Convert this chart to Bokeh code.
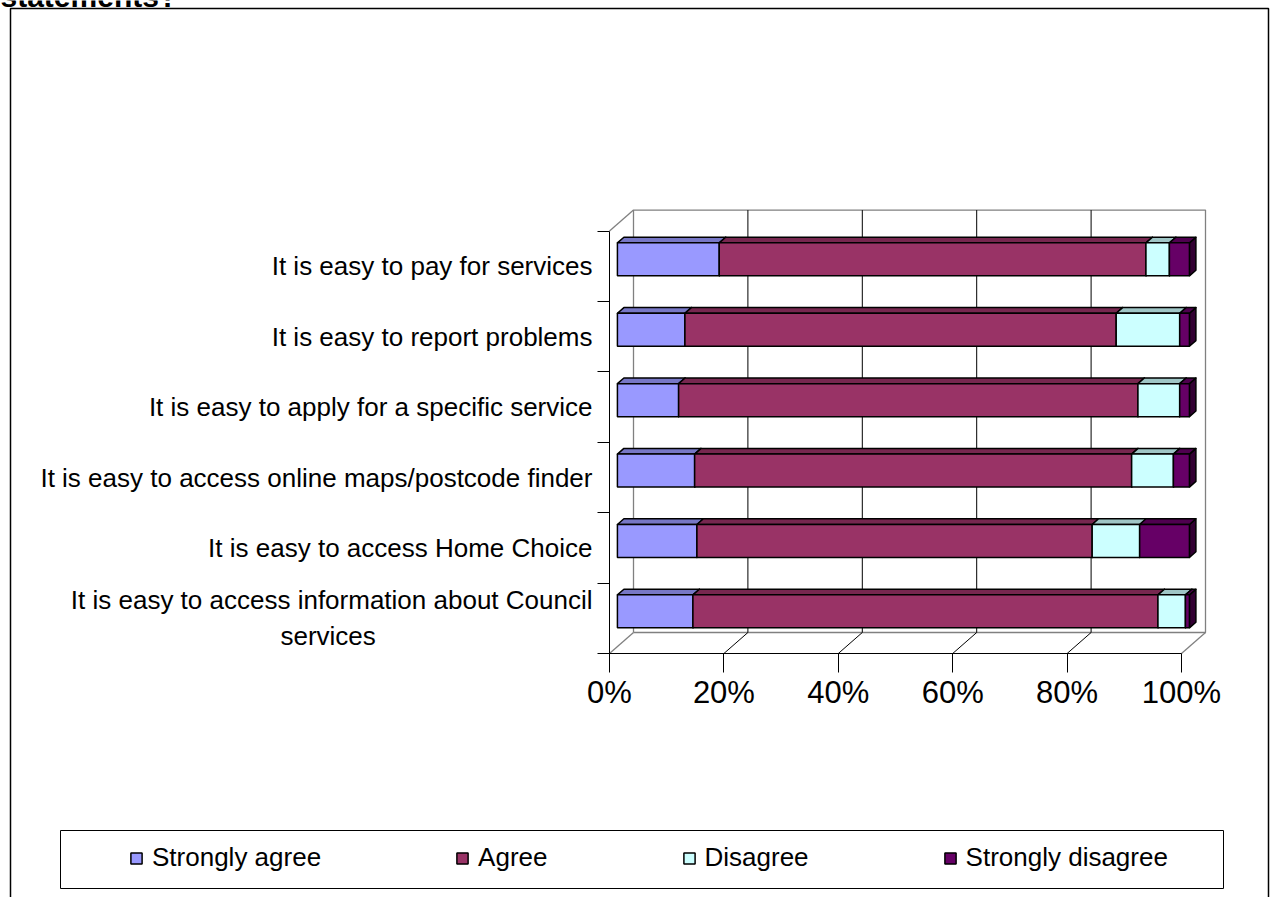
from bokeh.plotting import figure
from bokeh.models import (Range1d, LinearAxis, FixedTicker, PrintfTickFormatter,
                          Legend, LegendItem, ColumnDataSource)
from bokeh.core.properties import value
from bokeh.embed import file_html
from bokeh.resources import INLINE

# ---------------- data ----------------
NBSP = "\u00a0"
categories = [
    "It is easy to access information about Council\nservices" + NBSP * 30,
    "It is easy to access Home Choice",
    "It is easy to access online maps/postcode finder",
    "It is easy to apply for a specific service",
    "It is easy to report problems",
    "It is easy to pay for services",
]
series_names = ["Strongly agree", "Agree", "Disagree", "Strongly disagree"]
strongly_agree = [13.2, 13.9, 13.5, 10.7, 11.8, 17.8]
agree = [81.3, 69.1, 76.4, 80.3, 75.4, 74.6]
disagree = [4.8, 8.3, 7.3, 7.3, 11.1, 4.1]
strongly_disagree = [0.7, 8.7, 2.8, 1.7, 1.7, 3.5]
x_ticks = [0, 20, 40, 60, 80, 100]
title_tail = "statements?"

front_colors = ["#9999FF", "#993366", "#CCFFFF", "#660066"]

# ---------------- layout / styling constants ----------------
W, H = 1274, 897
ORIGIN_X, ORIGIN_Y = 609, 653      # canvas px of data point (0%, 0)
PX_X, PX_Y = 5.72, 70.4            # px per percent, px per category
DEPTH_X, DEPTH_Y = 24 / PX_X, 21 / PX_Y   # 3-D depth of the floor / walls
Z0, BD = 0.33, 0.27                # bar front depth and bar thickness (fraction of depth)
HH = 16.5 / PX_Y                   # half bar height
FONT = "Liberation Sans"


def shade(hexcol, f):
    h = hexcol.lstrip("#")
    r, g, b = (int(h[i:i + 2], 16) for i in (0, 2, 4))
    return "#%02x%02x%02x" % (int(r * f), int(g * f), int(b * f))


def dx(px):
    return (px - ORIGIN_X) / PX_X


def dy(py):
    return (ORIGIN_Y - py) / PX_Y


p = figure(width=W, height=H,
           x_range=Range1d(dx(0), dx(W)), y_range=Range1d(dy(H), dy(0)),
           output_backend="svg", toolbar_location=None,
           x_axis_type=None, y_axis_type=None, min_border=0,
           outline_line_color=None, background_fill_color="white",
           border_fill_color="white")

ncat = len(categories)

# ---------------- title remnant (cut off at the top, as in the source) ----------------
p.text(x=[dx(0)], y=[dy(-4)], text=[title_tail], text_font=value(FONT),
       text_font_size="30px", text_font_style="bold", text_color="black",
       text_align="left", text_baseline="alphabetic")

# ---------------- walls & floor ----------------
gray = "#808080"
xs_g = [
    [DEPTH_X, 100 + DEPTH_X, 100 + DEPTH_X, DEPTH_X, DEPTH_X],
    [0, DEPTH_X],
    [100, 100 + DEPTH_X],
    [0, DEPTH_X],
]
ys_g = [
    [DEPTH_Y, DEPTH_Y, ncat + DEPTH_Y, ncat + DEPTH_Y, DEPTH_Y],
    [ncat, ncat + DEPTH_Y],
    [0, DEPTH_Y],
    [0, DEPTH_Y],
]
p.multi_line(xs=xs_g, ys=ys_g, line_color=gray, line_width=1.3)

xs_b, ys_b = [], []
for t in x_ticks[1:-1]:
    xs_b.append([t + DEPTH_X, t + DEPTH_X])
    ys_b.append([DEPTH_Y, ncat + DEPTH_Y])
    xs_b.append([t, t + DEPTH_X])
    ys_b.append([0, DEPTH_Y])
p.multi_line(xs=xs_b, ys=ys_b, line_color="#000000", line_width=1)

# ---------------- 3-D stacked bars ----------------
series = [strongly_agree, agree, disagree, strongly_disagree]
cum = [0.0] * ncat
legend_items = []
for k, vals in enumerate(series):
    col = front_colors[k]
    lefts = [cum[i] + Z0 * DEPTH_X for i in range(ncat)]
    rights = [cum[i] + vals[i] + Z0 * DEPTH_X for i in range(ncat)]
    bots = [i + 0.5 - HH + Z0 * DEPTH_Y for i in range(ncat)]
    tops = [i + 0.5 + HH + Z0 * DEPTH_Y for i in range(ncat)]
    ox, oy = BD * DEPTH_X, BD * DEPTH_Y
    side_xs = [[r, r + ox, r + ox, r] for r in rights]
    side_ys = [[b, b + oy, t + oy, t] for b, t in zip(bots, tops)]
    top_xs = [[l, r, r + ox, l + ox] for l, r in zip(lefts, rights)]
    top_ys = [[t, t, t + oy, t + oy] for t in tops]
    p.patches(xs=side_xs, ys=side_ys, fill_color=shade(col, 0.5),
              line_color="black", line_width=1.5, line_join="round")
    p.patches(xs=top_xs, ys=top_ys, fill_color=shade(col, 0.78),
              line_color="black", line_width=1.5, line_join="round")
    src = ColumnDataSource(dict(left=lefts, right=rights, bottom=bots, top=tops))
    r = p.quad(left="left", right="right", bottom="bottom", top="top", source=src,
               fill_color=col, line_color="black", line_width=1.5)
    legend_items.append(LegendItem(label=series_names[k], renderers=[r]))
    cum = [cum[i] + vals[i] for i in range(ncat)]

# ---------------- axes ----------------
yaxis = LinearAxis(fixed_location=0, bounds=(0, ncat),
                   ticker=FixedTicker(ticks=[i + 0.5 for i in range(ncat)],
                                      minor_ticks=list(range(ncat + 1))),
                   major_label_overrides={i + 0.5: categories[i] for i in range(ncat)},
                   major_tick_in=0, major_tick_out=0,
                   minor_tick_in=0, minor_tick_out=12,
                   minor_tick_line_color="black", axis_line_color="black",
                   major_label_text_font=FONT, major_label_text_font_size="26px",
                   major_label_text_color="black", major_label_standoff=5)
p.add_layout(yaxis, "left")

xaxis = LinearAxis(fixed_location=0, bounds=(0, 100),
                   ticker=FixedTicker(ticks=x_ticks, minor_ticks=[]),
                   formatter=PrintfTickFormatter(format="%d%%"),
                   major_tick_in=0, major_tick_out=19,
                   major_tick_line_color="black", axis_line_color="black",
                   major_label_text_font=FONT, major_label_text_font_size="31px",
                   major_label_text_color="black", major_label_standoff=2)
p.add_layout(xaxis, "below")

# ---------------- legend ----------------
p.quad(left=[dx(60)], right=[dx(1223)], bottom=[dy(888)], top=[dy(830)],
       fill_color=None, line_color="black", line_width=1)
legend = Legend(items=legend_items, orientation="horizontal", location=(129, 24),
                spacing=134, glyph_width=14, glyph_height=14, label_standoff=9,
                label_text_font=FONT, label_text_font_size="26px",
                label_text_color="black",
                padding=0, margin=0, border_line_color=None,
                background_fill_alpha=0)
p.add_layout(legend, "center")

# ---------------- chart border ----------------
p.line(x=[dx(10), dx(10), dx(1268), dx(1268)],
       y=[dy(H + 5), dy(8), dy(8), dy(H + 5)],
       line_color="black", line_width=1.5)

open("out.html", "w").write(file_html(p, INLINE))
